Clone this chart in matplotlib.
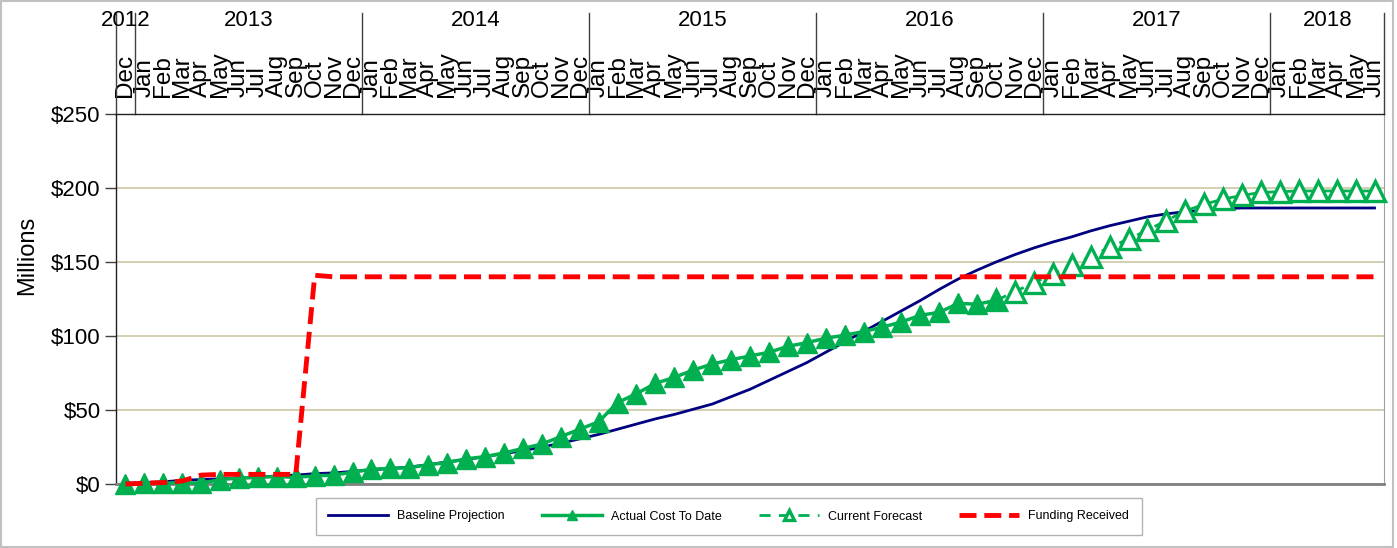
import numpy as np
import matplotlib
matplotlib.use("Agg")
import matplotlib.pyplot as plt
from matplotlib.patches import Rectangle
import matplotlib.transforms as mtransforms

plt.rcParams['font.family'] = ['Liberation Sans', 'DejaVu Sans']

# --- data (millions $), monthly Dec 2012 .. Jun 2018 ---
years = ['2012', '2013', '2014', '2015', '2016', '2017', '2018']
months_in_year = [1, 12, 12, 12, 12, 12, 6]
month_names = ['Jan', 'Feb', 'Mar', 'Apr', 'May', 'Jun',
               'Jul', 'Aug', 'Sep', 'Oct', 'Nov', 'Dec']
month_labels = ['Dec'] + month_names * 5 + month_names[:6]

baseline = [0.5, 1, 1.5, 2.5, 3, 3.5, 4, 4.5, 5.5, 6, 7, 7.5, 8.5,
            9.5, 10.5, 11.5, 13, 15, 16.5, 18.5, 20.5, 22.5, 25, 27.5, 30.5,
            33.5, 37, 40.5, 44, 47, 50.5, 54, 59, 64, 70, 76, 82,
            89, 96, 103, 110, 117, 124, 131.5, 138.5, 144.5, 150, 155, 159.5,
            163.5, 167, 171, 174.5, 177.5, 180.5, 182.5, 184, 185, 186, 186.5, 186.5,
            186.5, 186.5, 186.5, 186.5, 186.5, 186.5]

actual = [0, 0.5, 0.5, 1, 0.5, 3, 4, 4.5, 5, 4.5, 5.5, 6, 8,
          10, 10.5, 11, 13, 14.5, 17, 18.5, 21, 24, 27, 32, 37,
          42, 55, 61, 68, 72, 77, 81, 84, 86.5, 89, 93, 95.5,
          98.5, 100.5, 103, 106, 109.5, 114, 116, 122, 121.5, 124]

# forecast starts from the last actual month (Oct 2016)
forecast_start = 46
forecast = [124, 130, 136, 142, 148, 153.5, 160, 165.5, 171.5, 178, 184.5,
            189, 192.5, 195, 197, 197.5, 198, 198, 198, 198, 198]

funding = [0, 0.5, 1, 2, 6, 6.5, 6.5, 6.5, 6.5, 6.5, 141] + [140] * 56

n = len(month_labels)
x = np.arange(n)

fig = plt.figure(figsize=(13.97, 5.48), dpi=100)
ax = fig.add_axes([116 / 1397, 64 / 548, 1268 / 1397, 370 / 548])

green = '#00b050'
ax.plot(x, baseline, color='#000080', lw=2, label='Baseline Projection', zorder=3)
ax.plot(x[forecast_start:], forecast, color=green, lw=2, ls=(0, (4, 3)),
        marker='^', ms=15, mfc='white', mec=green, mew=2.4,
        label='Current Forecast', zorder=4, clip_on=False)
ax.plot(x[:len(actual)], actual, color=green, lw=2.5, marker='^', ms=15,
        mfc=green, mec=green, label='Actual Cost To Date', zorder=5,
        clip_on=False)
ax.plot(x, funding, color='#ff0000', lw=3.5, ls=(0, (3.5, 1.6)),
        label='Funding Received', zorder=6, clip_on=False)

ax.set_xlim(-0.5, n - 0.5)
ax.set_ylim(0, 250)
ax.set_yticks(range(0, 251, 50))
ax.set_yticklabels(['$%d' % v for v in range(0, 251, 50)], fontsize=16)
ax.tick_params(axis='y', length=8, width=1, color='#404040', pad=3)
ax.grid(axis='y', color='#cdc6a5', lw=1.2)
ax.set_axisbelow(True)

ax.set_xticks(x)
ax.set_xticklabels(month_labels, rotation=90, fontsize=17.5,
                   family=['Liberation Sans Narrow', 'Liberation Sans'])
ax.tick_params(axis='x', top=True, bottom=False, labeltop=True,
               labelbottom=False, length=0, pad=12)

for s in ['top', 'left']:
    ax.spines[s].set_color('#202020')
    ax.spines[s].set_linewidth(1)
ax.spines['bottom'].set_color('#808080')
ax.spines['bottom'].set_linewidth(2)
ax.spines['right'].set_color('#a0a0a0')

# year headers and separators above the plot
trans = mtransforms.blended_transform_factory(ax.transData, ax.transAxes)
starts = np.concatenate([[0], np.cumsum(months_in_year)])
for k, yr in enumerate(years):
    a, b = starts[k], starts[k + 1]
    ax.text((a + b) / 2 - 0.5, 1.254, yr, transform=trans, ha='center',
            va='center', fontsize=16)
for b in starts:
    ax.plot([b - 0.5, b - 0.5], [1.0, 1.273], transform=trans, color='#404040',
            lw=1, clip_on=False)

fig.text(27 / 1397, 1 - 255 / 548, 'Millions', rotation=90, ha='center',
         va='center', fontsize=17)

handles, labels = ax.get_legend_handles_labels()
order = [labels.index(l) for l in ['Baseline Projection', 'Actual Cost To Date',
                                   'Current Forecast', 'Funding Received']]
leg = fig.legend([handles[i] for i in order], [labels[i] for i in order],
                 loc='center', bbox_to_anchor=(728.5 / 1397, 1 - 516.5 / 548),
                 ncol=4, fontsize=9, frameon=True, fancybox=False,
                 edgecolor='#a0a0a0', handlelength=4.8, handletextpad=0.7,
                 columnspacing=3.0, borderpad=1.0, markerscale=0.45, numpoints=1)
leg.get_frame().set_linewidth(1)

fig.patches.append(Rectangle((0.001, 0.002), 0.996, 0.996, transform=fig.transFigure,
                             fill=False, edgecolor='#c0c0c0', lw=1.5))

fig.savefig('out.png', dpi=100)
